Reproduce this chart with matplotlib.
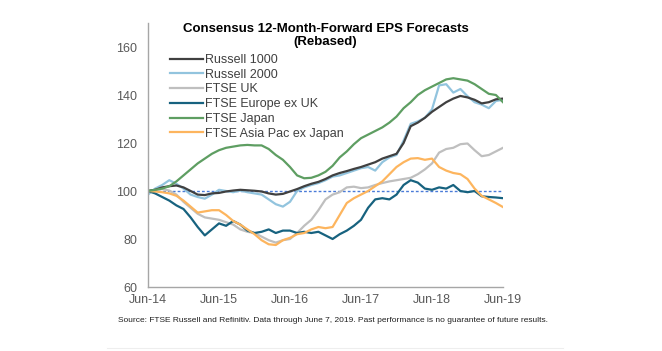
import numpy as np
import matplotlib
matplotlib.use("Agg")
import matplotlib.pyplot as plt

# ==================== Data (rebased to 100 at Jun-14) ====================
t = np.round(np.arange(0, 5.01, 0.1), 2)   # years since Jun-14
xtick_labels = ["Jun-14", "Jun-15", "Jun-16", "Jun-17", "Jun-18", "Jun-19"]

russell_1000 = [100, 100.5, 101.5, 102, 102.3, 101.5, 100, 98.5, 98.3, 99,
                99.2, 99.8, 100.2, 100.5, 100.3, 100.1, 99.8, 99, 98.5, 98.8,
                99.8, 100.8, 102, 103, 103.8, 105, 106.5, 107.5, 108.3, 109.2,
                110, 111, 112, 113.5, 114.5, 115.5, 120, 127, 128.5, 130.5,
                133, 135, 137, 138.5, 139.6, 139, 138, 136.5, 137, 138.2, 138.5]

russell_2000 = [98.5, 101, 102.5, 104.5, 103, 101, 98.5, 97.5, 96.8, 98.5,
                100.5, 100, 99.5, 100.2, 99.5, 99, 98.5, 96.5, 94.5, 93.5,
                95.5, 100, 101.5, 102.5, 103.3, 104.5, 106, 106.5, 107.5, 108.5,
                109.5, 110, 108.5, 112, 114, 115, 121, 128, 129, 130.5,
                134, 144, 144.5, 141, 142.5, 139.5, 137, 136, 134.5, 137.5, 138]

ftse_uk = [100, 100.5, 100.8, 100.2, 98.5, 95.5, 93, 90.5, 89, 88.5,
           88, 87, 86, 84, 83, 82.5, 81, 79.5, 78.5, 79.5,
           80, 82.5, 85.5, 88, 92, 96.5, 98.5, 99.5, 101.5, 101.8,
           101.2, 101.5, 102.5, 103.3, 104, 104.5, 105, 105.5, 107, 109,
           111.5, 116, 117.5, 118, 119.5, 119.8, 117, 114.5, 115, 116.5, 118]

ftse_europe_ex_uk = [100, 99, 97.5, 96, 94, 92.5, 89, 85, 81.5, 84,
                     86.5, 85.5, 87.5, 86, 83.5, 82.5, 83, 84, 82.5, 83.5,
                     83.5, 82.5, 83, 82.5, 83, 81.5, 80, 82, 83.5, 85.5,
                     88, 93, 96.5, 97, 96.5, 98.5, 102.5, 104.5, 103.5, 101,
                     100.5, 101.5, 101, 102.5, 100, 99.5, 100, 97.8, 97.5, 97.3, 97]

ftse_japan = [100, 100.5, 101, 102, 104, 106.5, 109, 111.5, 113.5, 115.5,
              117, 118, 118.5, 119, 119.2, 119, 119, 117.5, 115, 113,
              110, 106.5, 105.3, 105.5, 106.5, 108, 110.5, 114, 116.5, 119.5,
              122, 123.5, 125, 126.5, 128.5, 131, 134.5, 137, 140, 142,
              143.5, 145, 146.5, 147, 146.5, 146, 144.5, 142.5, 140.5, 140, 137]

ftse_asia_pac_ex_japan = [100, 99.8, 99.5, 99, 98, 96, 93.5, 91, 91.5, 92,
                          92, 90, 87.5, 86, 84, 82, 79.5, 77.8, 77.5, 79.5,
                          80.5, 82, 82.5, 84, 85, 84.5, 85, 90, 95, 97,
                          98.5, 100, 102, 104, 107, 110, 112, 113.5, 113.7, 113,
                          113.5, 110, 108.5, 107.5, 107, 105, 101, 98, 96.5, 95, 93.3]

series = [
    ("Russell 1000", russell_1000, "#404040"),
    ("Russell 2000", russell_2000, "#92C4DE"),
    ("FTSE UK", ftse_uk, "#BFBFBF"),
    ("FTSE Europe ex UK", ftse_europe_ex_uk, "#17627F"),
    ("FTSE Japan", ftse_japan, "#5E9E62"),
    ("FTSE Asia Pac ex Japan", ftse_asia_pac_ex_japan, "#FDB55E"),
]
draw_order = [2, 1, 0, 3, 5, 4]

# ==================== Plot ====================
plt.rcParams['font.family'] = ['Liberation Sans', 'DejaVu Sans']

fig = plt.figure(figsize=(6.62, 3.51), dpi=100)
ax = fig.add_axes([148/662, 1-287/351, 355/662, 264/351])

lines = {}
for i in draw_order:
    name, vals, col = series[i]
    lines[i], = ax.plot(t, vals, color=col, linewidth=1.6, label=name)

ax.axhline(100, color='#4A7BD8', linewidth=1.0, linestyle=(0, (2, 1.5)), zorder=0.5)

ax.set_xlim(0, 5)
ax.set_ylim(60, 170)
ax.set_yticks(range(60, 161, 20))
ax.set_xticks(range(6))
ax.set_xticklabels(xtick_labels)
ax.tick_params(axis='both', length=0, labelsize=9, colors='#595959')
ax.tick_params(axis='y', pad=8)
ax.tick_params(axis='x', pad=5)
for s in ['top', 'right']:
    ax.spines[s].set_visible(False)
for s in ['left', 'bottom']:
    ax.spines[s].set_color('#A6A6A6')
    ax.spines[s].set_linewidth(1.0)

ax.text(0.5, 1-12.5/264, "Consensus 12-Month-Forward EPS Forecasts\n(Rebased)",
        transform=ax.transAxes, ha='center', va='center', fontsize=9.5,
        fontweight='bold', linespacing=1.2)

ax.legend([lines[i] for i in range(6)], [s[0] for s in series],
          loc='upper left', bbox_to_anchor=(170/662, 1-54/351),
          bbox_transform=fig.transFigure, frameon=False, fontsize=9,
          handlelength=2.6, handletextpad=0.2, labelspacing=0.22,
          borderpad=0, borderaxespad=0, labelcolor='#404040')

fig.text(333/662, 1-320/351,
         "Source: FTSE Russell and Refinitiv. Data through June 7, 2019. "
         "Past performance is no guarantee of future results.",
         ha='center', va='center', fontsize=6.05, color='#202020')

fig.add_artist(plt.Line2D([107/662, 563/662], [1-348/351]*2, color='#EEEEEE',
                          linewidth=0.8, transform=fig.transFigure))

fig.savefig("out.png", dpi=100)
